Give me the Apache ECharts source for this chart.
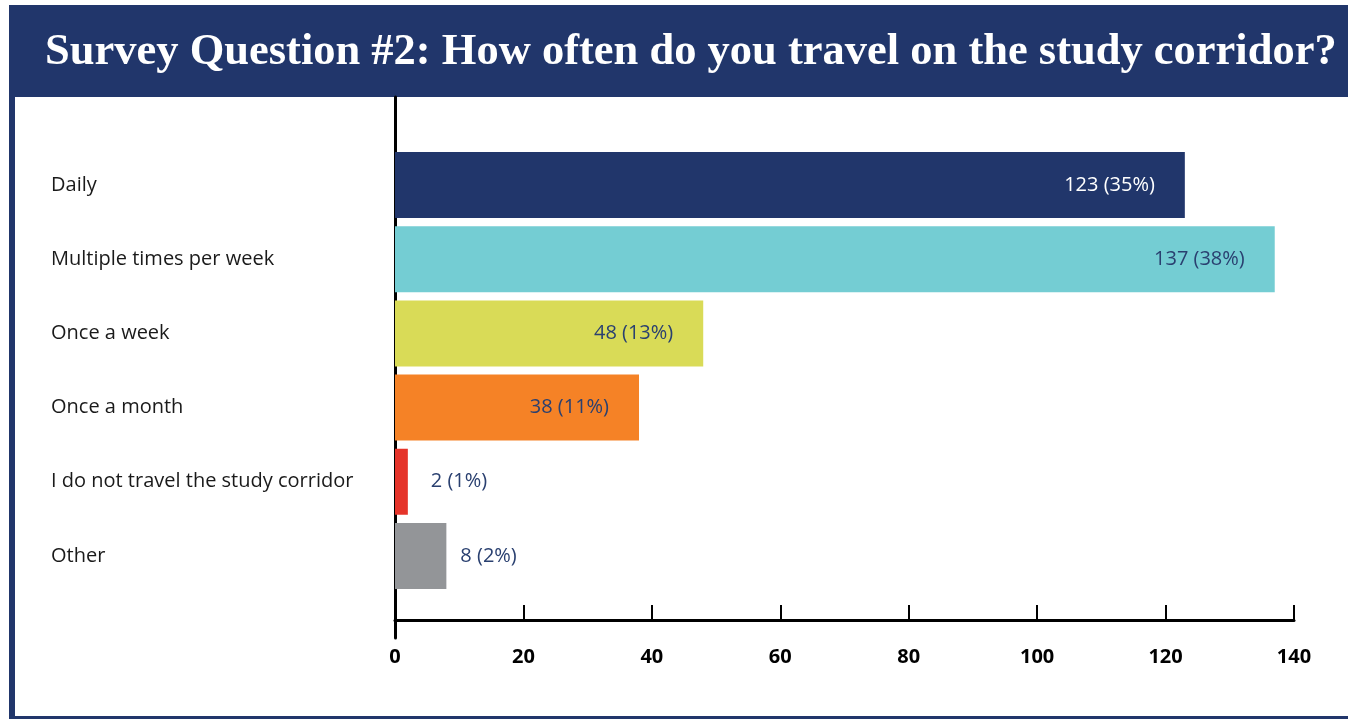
<!DOCTYPE html>
<html>
<head>
<meta charset="utf-8">
<script src="https://cdn.jsdelivr.net/npm/echarts@6/dist/echarts.min.js"></script>
<style>
  html, body { margin: 0; padding: 0; background: #ffffff; }
  #chart { width: 1348px; height: 719px; }
</style>
</head>
<body>
<div id="chart"></div>
<script>
// Survey answers: frequency of travel on the corridor
const categories = [
  'Daily',
  'Multiple times per week',
  'Once a week',
  'Once a month',
  'I do not travel the study corridor',
  'Other'
];
const counts = [123, 137, 48, 38, 2, 8];
const percents = [35, 38, 13, 11, 1, 2];
const barColors = ['#21366b', '#74cdd3', '#d9db57', '#f58226', '#e5342a', '#939598'];
const xTicks = [0, 20, 40, 60, 80, 100, 120, 140];

const NAVY = '#21366b';
const LABEL_NAVY = '#2a4070';

const chart = echarts.init(document.getElementById('chart'), null, { renderer: 'canvas' });

const barData = counts.map((v, i) => {
  const small = v < 20;
  return {
    value: v,
    itemStyle: { color: barColors[i] },
    label: {
      position: small ? 'right' : 'insideRight',
      distance: small ? (v < 5 ? 23 : 14) : 30,
      color: i === 0 ? '#ffffff' : LABEL_NAVY
    }
  };
});

const option = {
  backgroundColor: '#ffffff',
  animation: false,
  title: {
    text: 'Survey Question #2: How often do you travel on the study corridor?',
    left: 40,
    top: 25,
    textStyle: {
      color: '#ffffff',
      fontFamily: 'Liberation Serif',
      fontWeight: 'bold',
      fontSize: 44.5
    }
  },
  graphic: [
    // frame and header band
    { type: 'rect', z: -10, silent: true,
      shape: { x: 9, y: 5, width: 1345, height: 720 },
      style: { fill: NAVY } },
    { type: 'rect', z: -9, silent: true,
      shape: { x: 15, y: 97, width: 1340, height: 619 },
      style: { fill: '#ffffff' } }
  ],
  grid: [
    { left: 395, right: 54, top: 148, bottom: 126, containLabel: false },
    { left: 395, right: 54, top: 97, bottom: 81, containLabel: false }
  ],
  xAxis: [
    {
      gridIndex: 0,
      type: 'value',
      min: xTicks[0],
      max: xTicks[xTicks.length - 1],
      interval: 20,
      offset: 27,
      splitLine: { show: false },
      axisLine: { show: true, lineStyle: { color: '#000', width: 3 } },
      axisTick: { show: true, inside: true, length: 15, lineStyle: { color: '#000', width: 2 } },
      axisLabel: {
        margin: 27,
        color: '#000',
        fontFamily: 'Open Sans',
        fontWeight: 'bold',
        fontSize: 20
      }
    },
    { gridIndex: 1, type: 'value', show: false, min: 0, max: 140 }
  ],
  yAxis: [
    {
      gridIndex: 0,
      type: 'category',
      data: categories,
      inverse: true,
      axisLine: { show: false },
      axisTick: { show: false },
      axisLabel: {
        align: 'left',
        margin: 344,
        color: '#1a1a1a',
        fontFamily: 'Open Sans',
        fontSize: 20
      }
    },
    {
      gridIndex: 1,
      type: 'category',
      data: categories,
      axisLine: { show: true, lineStyle: { color: '#000', width: 3 } },
      axisTick: { show: false },
      axisLabel: { show: false }
    }
  ],
  series: [
    {
      type: 'bar',
      xAxisIndex: 0,
      yAxisIndex: 0,
      data: barData,
      barWidth: 66,
      label: {
        show: true,
        fontFamily: 'Open Sans',
        fontSize: 20,
        formatter: p => `${counts[p.dataIndex]} (${percents[p.dataIndex]}%)`
      }
    }
  ]
};

chart.setOption(option);
</script>
</body>
</html>
